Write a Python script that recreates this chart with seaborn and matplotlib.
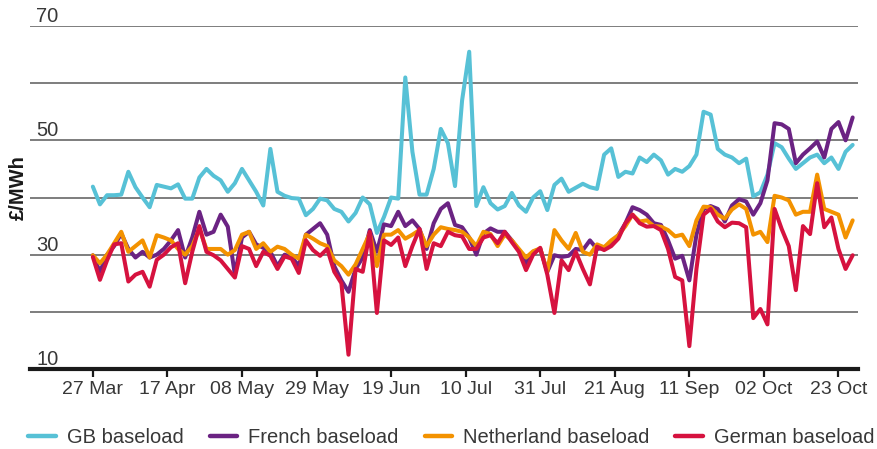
import numpy as np
import pandas as pd
import matplotlib
matplotlib.use("Agg")
import matplotlib.pyplot as plt
import matplotlib.dates as mdates
import matplotlib.transforms as mtransforms
from matplotlib.lines import Line2D
import seaborn as sns

# values, one every second day from 27 Mar
dates = pd.date_range("2017-03-27", periods=108, freq="2D")

gb = [41.9, 38.8, 40.4, 40.4, 40.5, 44.5, 41.8, 40.0, 38.3, 42.2,
      41.9, 41.6, 42.3, 39.8, 39.8, 43.5, 45.0, 43.8, 43.0, 41.0,
      42.5, 45.0, 43.0, 41.0, 38.6, 48.5, 41.0, 40.3, 39.9, 39.8,
      36.9, 38.0, 39.8, 39.5, 38.0, 37.5, 35.8, 37.3, 40.0, 38.8,
      33.8, 36.6, 40.0, 39.8, 61.0, 48.0, 40.5, 40.5, 45.0, 52.0,
      49.5, 42.0, 57.0, 65.5, 38.5, 41.8, 39.0, 37.9, 38.5, 40.8,
      38.6, 37.5, 40.0, 41.1, 37.8, 42.2, 43.3, 41.0, 41.7, 42.4,
      41.8, 41.5, 47.5, 48.6, 43.6, 44.5, 44.2, 47.0, 46.2, 47.5,
      46.5, 44.0, 45.0, 44.5, 45.5, 47.5, 55.0, 54.5, 48.5, 47.5,
      47.0, 46.0, 46.8, 40.2, 40.9, 44.0, 49.5, 48.8, 46.8, 45.0,
      46.0, 47.0, 47.5, 46.0, 47.0, 45.0, 48.0, 49.2]

french = [29.9, 27.0, 30.0, 31.5, 33.7, 31.0, 29.5, 30.5, 29.5, 30.0,
          31.0, 32.5, 34.3, 29.5, 33.0, 37.5, 33.5, 34.0, 37.0, 34.9,
          26.5, 33.0, 34.0, 31.8, 31.2, 30.5, 28.0, 30.0, 29.6, 28.0,
          33.5, 34.5, 35.5, 33.5, 28.0, 25.5, 23.5, 27.5, 29.5, 34.3,
          30.5, 35.3, 35.0, 37.5, 35.0, 36.0, 34.5, 31.0, 35.5, 38.0,
          39.0, 35.2, 34.8, 33.0, 30.0, 33.7, 34.6, 34.0, 34.0, 32.5,
          30.8, 28.5, 30.5, 31.0, 27.0, 29.9, 29.6, 29.8, 31.0, 30.8,
          32.5, 31.0, 31.2, 32.2, 33.4, 35.5, 38.3, 37.8, 37.0, 35.5,
          35.2, 32.5, 29.3, 29.8, 25.5, 33.5, 38.0, 38.5, 38.0, 35.8,
          38.6, 39.7, 39.3, 37.0, 39.0, 43.0, 53.0, 52.8, 52.0, 46.0,
          47.5, 48.6, 49.8, 47.0, 52.0, 53.2, 50.0, 54.0]

netherland = [29.9, 28.5, 30.0, 32.0, 34.0, 30.5, 31.5, 32.5, 29.5, 33.4,
              33.0, 32.5, 31.0, 30.0, 31.5, 34.5, 31.0, 31.0, 31.0, 30.0,
              30.8, 33.5, 34.0, 31.0, 32.0, 30.5, 31.4, 31.0, 30.0, 29.3,
              33.5, 32.8, 32.0, 31.5, 29.0, 28.0, 26.5, 28.3, 31.0, 33.7,
              28.0, 33.5, 33.5, 34.3, 32.8, 33.5, 34.3, 31.5, 33.5, 34.8,
              34.5, 34.3, 34.0, 33.0, 31.5, 34.0, 33.6, 31.5, 33.5, 32.5,
              31.0, 29.5, 30.6, 31.1, 27.0, 34.3, 32.5, 31.0, 33.8, 30.5,
              30.0, 31.8, 31.3, 32.5, 33.4, 35.0, 37.0, 35.8, 36.0, 35.0,
              34.9, 34.3, 33.2, 33.5, 31.5, 36.0, 38.4, 38.3, 37.0, 36.3,
              37.9, 38.8, 38.0, 33.5, 34.0, 32.2, 40.3, 40.0, 39.5, 37.0,
              37.5, 37.5, 44.0, 38.0, 37.5, 37.0, 33.0, 36.0]

german = [29.6, 25.6, 29.0, 31.8, 32.0, 25.3, 26.5, 27.0, 24.4, 29.1,
          30.0, 31.3, 32.0, 25.0, 30.5, 35.0, 30.5, 29.9, 29.0, 27.5,
          26.0, 31.5, 31.0, 28.0, 30.5, 29.8, 27.5, 29.7, 29.3, 26.8,
          32.5, 30.8, 29.8, 31.0, 27.0, 25.0, 12.5, 27.5, 27.0, 34.0,
          19.8, 32.5, 31.7, 33.0, 28.0, 31.5, 34.5, 27.5, 32.0, 31.5,
          34.0, 33.4, 33.2, 31.0, 31.0, 33.0, 33.4, 32.0, 34.0, 32.2,
          30.5, 27.3, 30.0, 31.2, 26.5, 19.8, 29.0, 27.3, 30.5, 27.5,
          24.8, 31.4, 30.8, 31.5, 32.8, 35.5, 37.0, 35.5, 34.9, 35.0,
          34.3, 31.0, 26.1, 25.5, 14.0, 27.5, 37.0, 38.0, 35.8, 34.8,
          35.6, 35.5, 34.8, 18.9, 20.5, 17.8, 38.0, 34.5, 31.5, 23.8,
          35.0, 33.6, 42.5, 34.8, 36.5, 31.0, 27.5, 29.9]

series_names = ["GB baseload", "French baseload", "Netherland baseload", "German baseload"]
colours = ["#57C1D6", "#6B2383", "#F39200", "#D6123F"]
x_ticks = pd.date_range("2017-03-27", periods=11, freq="21D")
y_grid = [20, 30, 40, 50, 60, 70]
y_labels = [10, 30, 50, 70]

df = pd.DataFrame({"date": dates,
                   series_names[0]: gb,
                   series_names[1]: french,
                   series_names[2]: netherland,
                   series_names[3]: german})
df = df.melt(id_vars="date", var_name="series", value_name="price")

sns.set_theme(style="white")
plt.rcParams["font.family"] = ["Liberation Sans", "DejaVu Sans"]

fig = plt.figure(figsize=(8.78, 4.49), dpi=100)
ax = fig.add_axes([30 / 878, 80 / 449, 828 / 878, 343 / 449])

sns.lineplot(data=df, x="date", y="price", hue="series", hue_order=series_names,
             palette=colours, linewidth=2.9, legend=False, ax=ax, estimator=None)

start = pd.Timestamp("2017-03-27")
ax.set_xlim(start - pd.Timedelta(days=17.7), start + pd.Timedelta(days=215.5))
ax.set_ylim(10, 70)

ax.set_yticks(y_grid)
ax.set_yticklabels([])
ax.tick_params(axis="y", length=0)
ax.yaxis.grid(True, color="#5a5a5a", linewidth=1.1)
ax.xaxis.grid(False)
ax.set_axisbelow(True)

trans = mtransforms.offset_copy(ax.get_yaxis_transform(), fig=fig, x=6, y=4, units="dots")
for v in y_labels:
    ax.text(0, v, str(v), transform=trans, ha="left", va="baseline",
            fontsize=14.5, color="#383838")

ax.set_xticks(x_ticks)
ax.xaxis.set_major_formatter(mdates.DateFormatter("%d %b"))
ax.tick_params(axis="x", length=6, width=1.6, color="#1a1a1a", pad=3,
               labelsize=14, labelcolor="#383838", bottom=True)

for s in ["top", "right", "left"]:
    ax.spines[s].set_visible(False)
ax.spines["bottom"].set_linewidth(3)
ax.spines["bottom"].set_color("#1a1a1a")

ax.set_xlabel("")
ax.set_ylabel("£/MWh", fontsize=14.5, color="#1a1a1a", fontweight="bold")
ax.yaxis.set_label_coords(-0.003, 0.53)

handles = [Line2D([], [], color=c, linewidth=3.2, solid_capstyle="round") for c in colours]
fig.legend(handles, series_names, loc="center", bbox_to_anchor=(0.514, 0.0245),
           ncol=4, frameon=False, fontsize=14.5, handlelength=1.35,
           handletextpad=0.55, columnspacing=1.3, labelcolor="#383838")

fig.savefig("out.png", dpi=100)
